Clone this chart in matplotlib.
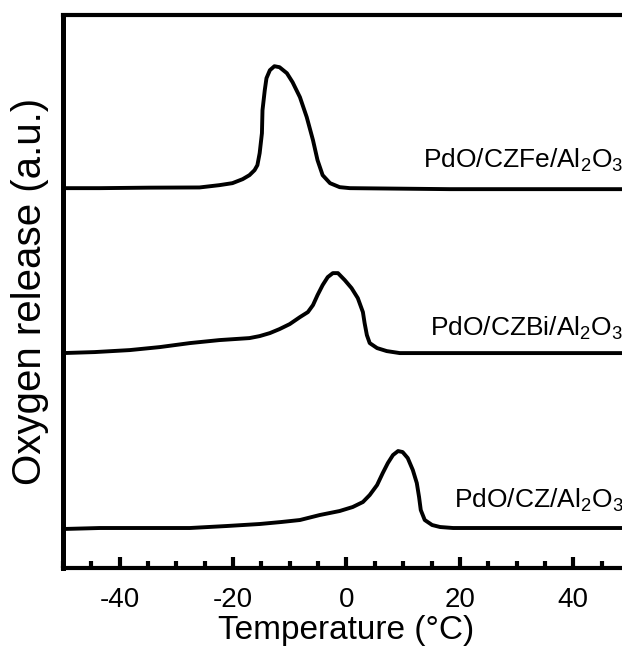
import matplotlib
matplotlib.use('Agg')
import matplotlib.pyplot as plt
from matplotlib.ticker import MultipleLocator

plt.rcParams['font.family'] = ['Liberation Sans', 'DejaVu Sans']
plt.rcParams['mathtext.fontset'] = 'custom'
plt.rcParams['mathtext.rm'] = 'Liberation Sans'
plt.rcParams['mathtext.it'] = 'Liberation Sans:italic'
plt.rcParams['axes.unicode_minus'] = False

# oxygen release traces (a.u., relative to each baseline)
temp_fe = [-50, -43.5, -34.7, -25.9, -22.4, -20.1, -18.3, -17.1, -16.2, -15.7,
           -15.3, -14.9, -14.8, -14.4, -14.1, -13.5, -12.7, -11.8, -10.5, -9.5,
           -8.2, -7.0, -5.9, -5.1, -4.2, -2.9, -1.2, 0.6, 18.2, 35.9, 50]
sig_fe = [1, 1, 1.5, 1.7, 4, 6, 10, 14, 19, 24,
          36, 56, 79, 99, 111, 119, 123, 122, 116, 107,
          92, 72, 49, 29, 14, 6, 2, 1, 0, 0, 0]

temp_bi = [-50, -44.4, -38.2, -32.9, -27.6, -22.4, -17.1, -15.3, -13.5, -11.8,
           -10.0, -8.2, -6.8, -5.9, -5.1, -4.2, -3.3, -2.4, -1.5, -0.3,
           0.9, 2.0, 2.9, 3.2, 3.6, 4.1, 5.4, 7.1, 9.4, 12.9, 50]
sig_bi = [0, 1, 3, 6, 10, 13, 15, 17, 20, 24,
          29, 36, 41, 48, 58, 68, 76, 80, 80, 73,
          65, 55, 41, 30, 18, 10, 5, 2, 0, 0, 0]

temp_cz = [-50, -43.5, -27.6, -21.1, -15.3, -11.5, -8.2, -4.7, -1.2, 1.1,
           2.9, 4.1, 5.4, 6.4, 7.3, 8.2, 9.1, 9.9, 10.8, 11.7,
           12.4, 12.8, 13.1, 13.8, 15.1, 16.5, 18.8, 50]
sig_cz = [-1, 0, 0, 2, 4, 6, 8, 13, 17, 21,
          26, 33, 43, 55, 65, 73, 77, 76, 70, 58,
          45, 31, 18, 8, 3, 1, 0, 0]

samples = ['PdO/CZFe/Al$_2$O$_3$', 'PdO/CZBi/Al$_2$O$_3$', 'PdO/CZ/Al$_2$O$_3$']
offsets = [379, 215, 40]
label_y = [408, 240, 68]

fig = plt.figure(figsize=(6.22, 6.62), dpi=100)
ax = fig.add_axes([0.101, 0.142, 0.912, 0.835])

traces = [(temp_fe, sig_fe), (temp_bi, sig_bi), (temp_cz, sig_cz)]
for (t, s), off, name, ly in zip(traces, offsets, samples, label_y):
    ax.plot(t, [v + off for v in s], color='black', lw=2.8,
            solid_joinstyle='round', solid_capstyle='round')
    ax.text(48.8, ly, name, ha='right', va='center', fontsize=19)

ax.set_xlim(-50, 50)
ax.set_ylim(0, 553)
ax.xaxis.set_major_locator(MultipleLocator(20))
ax.xaxis.set_minor_locator(MultipleLocator(5))
ax.set_yticks([])
ax.tick_params(axis='x', which='major', direction='in', length=8, width=3,
               labelsize=20, pad=14)
ax.tick_params(axis='x', which='minor', direction='in', length=5, width=3)
for sp in ax.spines.values():
    sp.set_linewidth(3)
ax.spines['left'].set_linewidth(3.6)

ax.set_xlabel('Temperature (°C)', fontsize=24, labelpad=1)
ax.set_ylabel('Oxygen release (a.u.)', fontsize=29, labelpad=10)

fig.savefig('out.png', dpi=100)
